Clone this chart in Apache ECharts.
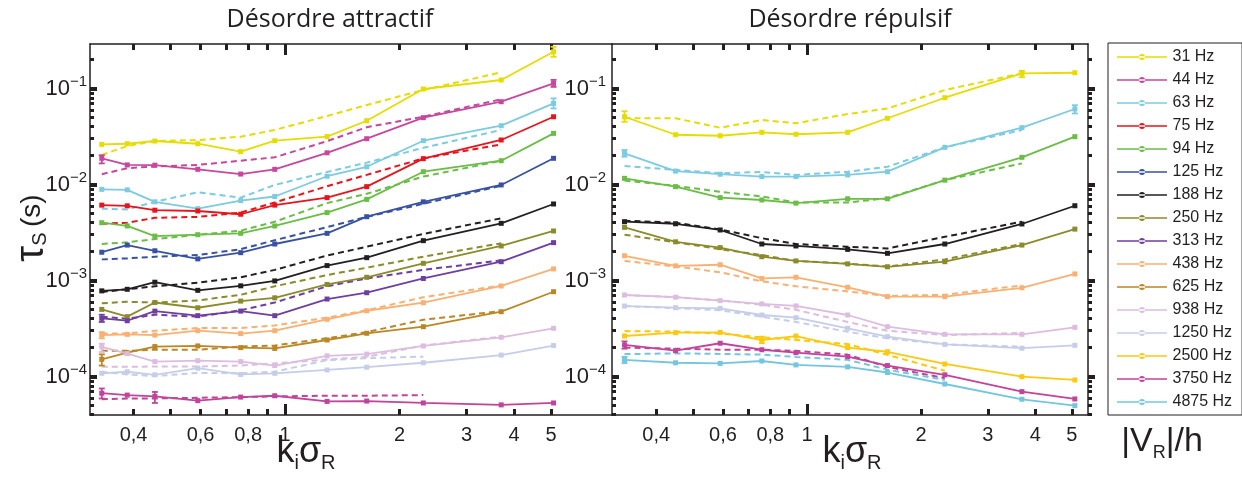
<!DOCTYPE html>
<html>
<head>
<meta charset="utf-8">
<script src="https://cdn.jsdelivr.net/npm/echarts@6/dist/echarts.min.js"></script>
<style>
  html, body { margin: 0; padding: 0; background: #fff; }
  #chart { width: 1242px; height: 479px; }
</style>
</head>
<body>
<div id="chart"></div>
<script>
// k_i * sigma_R positions of the measurements
var kAttr = [0.33, 0.385, 0.455, 0.59, 0.765, 0.94, 1.29, 1.64, 2.31, 3.7, 5.08];
var kRep = [0.33, 0.45, 0.59, 0.76, 0.935, 1.28, 1.63, 2.31, 3.69, 5.09];

var freqs = ['31 Hz', '44 Hz', '63 Hz', '75 Hz', '94 Hz', '125 Hz', '188 Hz', '250 Hz',
  '313 Hz', '438 Hz', '625 Hz', '938 Hz', '1250 Hz', '2500 Hz', '3750 Hz', '4875 Hz'];
var colors = ['#e6dc00', '#c7479d', '#7ccbe0', '#e8141b', '#6abd45', '#3851a3', '#231f20', '#8b8b2c',
  '#6e3fa0', '#f9b072', '#bb8725', '#dcbde0', '#c5cdea', '#fcc90f', '#c2439a', '#74c6e0'];

var xTicks = [0.4, 0.5, 0.6, 0.7, 0.8, 0.9, 2, 3, 4, 5];
var xMajor = [1];
var xLabels = [0.4, 0.6, 0.8, 1, 2, 3, 4, 5];
var yLabels = [1e-4, 1e-3, 1e-2, 1e-1];

// désordre attractif : mesures (trait plein) et théorie (tirets)
var attr31 = [0.0262, 0.0266, 0.0284, 0.0266, 0.0220, 0.0286, 0.0316, 0.0462, 0.0989, 0.1227, 0.2415];
var attr31Th = [0.0203, 0.0252, 0.0284, 0.029, 0.0315, 0.037, 0.0517, 0.0673, 0.0965, 0.1475, null];
var attr44 = [0.01875, 0.0160, 0.0159, 0.0144, 0.01285, 0.0144, 0.0214, 0.030, 0.0497, 0.0729, 0.1133];
var attr44Th = [0.0128, 0.0148, 0.0154, 0.016, 0.0177, 0.0192, 0.0283, 0.0395, 0.0509, 0.0772, null];
var attr63 = [0.0089, 0.0088, 0.0066, 0.0056, 0.0068, 0.0075, 0.0122, 0.0153, 0.0286, 0.041, 0.0701];
var attr63Th = [0.0056, 0.0055, 0.0066, 0.0083, 0.0073, 0.0099, 0.0135, 0.0169, 0.0241, 0.037, null];
var attr75 = [0.0061, 0.0060, 0.0054, 0.0053, 0.0049, 0.0061, 0.0073, 0.0095, 0.0186, 0.0291, 0.0508];
var attr75Th = [0.0039, 0.0040, 0.0045, 0.0046, 0.0051, 0.0065, 0.0096, 0.0126, 0.0187, 0.0262, null];
var attr94 = [0.0040, 0.0037, 0.0029, 0.0030, 0.0031, 0.0037, 0.0051, 0.0070, 0.0136, 0.0177, 0.0341];
var attr94Th = [0.0024, 0.0025, 0.0027, 0.0030, 0.0033, 0.0041, 0.0064, 0.0080, 0.0121, 0.0177, null];
var attr125 = [0.00197, 0.00234, 0.00204, 0.00168, 0.00195, 0.0024, 0.0031, 0.00462, 0.0066, 0.0099, 0.01875];
var attr125Th = [0.00166, 0.0017, 0.00177, 0.00184, 0.00212, 0.00263, 0.0036, 0.0046, 0.0063, 0.0097, null];
var attr188 = [0.00078, 0.00081, 0.00096, 0.00079, 0.00088, 0.00099, 0.00143, 0.00173, 0.0026, 0.00394, 0.00627];
var attr188Th = [0.00076, 0.00081, 0.00087, 0.00095, 0.00108, 0.00129, 0.00182, 0.00225, 0.00305, 0.00445, null];
var attr250 = [0.00050, 0.00042, 0.00059, 0.00052, 0.00061, 0.00066, 0.00091, 0.00108, 0.00151, 0.00229, 0.00328];
var attr250Th = [0.00058, 0.0006, 0.00059, 0.00062, 0.00071, 0.00087, 0.00114, 0.00136, 0.00177, 0.00244, null];
var attr313 = [0.000404, 0.000381, 0.00048, 0.00043, 0.00048, 0.00043, 0.000641, 0.000746, 0.00105, 0.00157, 0.00248];
var attr313Th = [0.00042, 0.00040, 0.00044, 0.00042, 0.00049, 0.00059, 0.00087, 0.00105, 0.00129, 0.00162, null];
var attr438 = [0.00027, 0.000275, 0.00027, 0.0003, 0.00028, 0.0003, 0.000394, 0.000484, 0.000587, 0.000877, 0.00132];
var attr438Th = [0.00028, 0.00028, 0.0003, 0.00032, 0.00032, 0.00034, 0.00041, 0.00049, 0.00067, 0.00089, null];
var attr625 = [0.000151, 0.000177, 0.000205, 0.000208, 0.0002, 0.000196, 0.00024, 0.000282, 0.00033, 0.000473, 0.000764];
var attr625Th = [0.000185, 0.000185, 0.00019, 0.00019, 0.000205, 0.00021, 0.00025, 0.00029, 0.00039, 0.00048, null];
var attr938 = [0.000204, 0.000173, 0.000143, 0.000146, 0.000143, 0.00013, 0.000164, 0.000171, 0.000208, 0.000256, 0.000318];
var attr938Th = [0.000126, 0.000126, 0.000127, 0.000127, 0.00013, 0.000137, 0.00015, 0.00016, 0.00021, 0.00026, null];
var attr1250 = [0.000108, 0.000112, 0.000104, 0.000122, 0.000105, 0.000108, 0.000117, 0.000125, 0.000139, 0.000167, 0.00021];
var attr1250Th = [0.000112, 0.000105, 0.000101, 0.000109, 0.000108, 0.000112, 0.000148, 0.000155, 0.000161, null, null];
var attr3750 = [6.7e-5, 6.4e-5, 6.2e-5, 5.6e-5, 6.1e-5, 6.3e-5, 5.5e-5, 5.55e-5, 5.3e-5, 5.06e-5, 5.3e-5];
var attr3750Th = [5.8e-5, 5.9e-5, 5.9e-5, 6.0e-5, 6.1e-5, 6.2e-5, 6.3e-5, 6.3e-5, 6.4e-5, null, null];

// désordre répulsif
var rep31 = [0.0508, 0.033, 0.0322, 0.035, 0.0334, 0.035, 0.049, 0.0802, 0.144, 0.146];
var rep31Th = [0.049, 0.049, 0.039, 0.047, 0.0434, 0.0542, 0.062, 0.0965, 0.144, null];
var rep63 = [0.0211, 0.0138, 0.0128, 0.0121, 0.0121, 0.0126, 0.0136, 0.0244, 0.0391, 0.0612];
var rep63Th = [0.0156, 0.0142, 0.0131, 0.0135, 0.0126, 0.0136, 0.0153, 0.0244, 0.037, null];
var rep94 = [0.0116, 0.0095, 0.0073, 0.0069, 0.0064, 0.0071, 0.0071, 0.0111, 0.0192, 0.0315];
var rep94Th = [0.011, 0.0097, 0.0084, 0.0075, 0.0065, 0.0065, 0.0072, 0.0111, 0.0166, null];
var rep188 = [0.0041, 0.0039, 0.00336, 0.0024, 0.00229, 0.00211, 0.00192, 0.0024, 0.00388, 0.00601];
var rep188Th = [0.0042, 0.0040, 0.0034, 0.00276, 0.0024, 0.00225, 0.00216, 0.00285, 0.0041, null];
var rep250 = [0.00358, 0.00253, 0.0022, 0.00177, 0.0016, 0.00149, 0.00139, 0.00157, 0.00234, 0.00343];
var rep250Th = [0.0030, 0.0025, 0.00212, 0.00184, 0.0016, 0.0015, 0.0014, 0.00166, 0.0024, null];
var rep438 = [0.00181, 0.00142, 0.00146, 0.00105, 0.00108, 0.00085, 0.00068, 0.00068, 0.00084, 0.00117];
var rep438Th = [0.0016, 0.0014, 0.00122, 0.00098, 0.00087, 0.00077, 0.00069, 0.00071, 0.00089, null];
var rep938 = [0.000706, 0.00067, 0.000617, 0.00057, 0.000543, 0.000437, 0.00033, 0.000275, 0.000275, 0.000325];
var rep938Th = [0.000706, 0.00067, 0.00062, 0.00056, 0.000495, 0.00037, 0.0003, 0.00027, 0.000285, null];
var rep1250 = [0.000542, 0.000521, 0.000513, 0.000437, 0.00041, 0.000318, 0.00026, 0.000216, 0.000197, 0.000211];
var rep1250Th = [0.000542, 0.000515, 0.00049, 0.00042, 0.00037, 0.000292, 0.00025, 0.000216, 0.000205, null];
var rep2500 = [0.000264, 0.000286, 0.000288, 0.00024, 0.000264, 0.0002, 0.000181, 0.000135, 0.0000995, 0.000092];
var rep2500Th = [0.000297, 0.000294, 0.00028, 0.000256, 0.00024, 0.000218, 0.000168, 0.000115, null, null];
var rep3750 = [0.000213, 0.000186, 0.000222, 0.00019, 0.000177, 0.000161, 0.00013, 0.000104, 0.0000695, 0.0000583];
var rep3750Th = [0.0002, 0.000195, 0.00019, 0.00019, 0.000185, 0.000169, 0.000126, 0.000096, null, null];
var rep4875 = [0.000149, 0.000139, 0.000137, 0.000145, 0.000132, 0.000126, 0.00011, 0.0000835, 0.0000579, 0.0000497];
var rep4875Th = [0.000171, 0.000174, 0.000172, 0.000169, 0.00016, 0.000149, 0.000118, 0.000092, null, null];

// barres d'erreur visibles : [fréquence, k, bas, haut]
var errAttr = [
  ['31 Hz', 5.08, 0.214, 0.272], ['44 Hz', 0.33, 0.0166, 0.0202], ['44 Hz', 5.08, 0.104, 0.123],
  ['63 Hz', 5.08, 0.062, 0.079], ['313 Hz', 0.33, 0.00037, 0.00044], ['438 Hz', 0.33, 0.00025, 0.00029],
  ['625 Hz', 0.33, 0.00013, 0.00017], ['938 Hz', 0.33, 0.00018, 0.00022],
  ['3750 Hz', 0.33, 5.9e-5, 7.5e-5], ['3750 Hz', 0.455, 5.3e-5, 6.9e-5]
];
var errRep = [
  ['31 Hz', 0.33, 0.045, 0.058], ['31 Hz', 3.69, 0.131, 0.153], ['63 Hz', 0.33, 0.0195, 0.0229],
  ['63 Hz', 5.09, 0.055, 0.067], ['3750 Hz', 0.33, 0.000195, 0.000232], ['4875 Hz', 0.33, 0.000138, 0.00016],
  ['2500 Hz', 0.76, 0.000222, 0.00026]
];

var attrList = [
  ['31 Hz', attr31, attr31Th], ['44 Hz', attr44, attr44Th], ['63 Hz', attr63, attr63Th],
  ['75 Hz', attr75, attr75Th], ['94 Hz', attr94, attr94Th], ['125 Hz', attr125, attr125Th],
  ['188 Hz', attr188, attr188Th], ['250 Hz', attr250, attr250Th], ['313 Hz', attr313, attr313Th],
  ['438 Hz', attr438, attr438Th], ['625 Hz', attr625, attr625Th], ['938 Hz', attr938, attr938Th],
  ['1250 Hz', attr1250, attr1250Th], ['3750 Hz', attr3750, attr3750Th]
];
var repList = [
  ['31 Hz', rep31, rep31Th], ['63 Hz', rep63, rep63Th], ['94 Hz', rep94, rep94Th],
  ['188 Hz', rep188, rep188Th], ['250 Hz', rep250, rep250Th], ['438 Hz', rep438, rep438Th],
  ['938 Hz', rep938, rep938Th], ['1250 Hz', rep1250, rep1250Th], ['2500 Hz', rep2500, rep2500Th],
  ['3750 Hz', rep3750, rep3750Th], ['4875 Hz', rep4875, rep4875Th]
];

var TXT = '#231f20';
var FONT = 'Liberation Sans';
var YMIN = 3.97e-5, YMAX = 0.291;
var XL = [0.3073, 7.235], XR = [0.3058, 5.513];

function pairs(k, v) {
  var out = [];
  for (var i = 0; i < k.length; i++) {
    if (v[i] != null) out.push([k[i], v[i]]);
  }
  return out;
}
function colorOf(name) { return colors[freqs.indexOf(name)]; }

var series = [];
function addPanel(list, errs, k, xi, yi) {
  list.forEach(function (s) {
    var c = colorOf(s[0]);
    series.push({
      type: 'line', name: s[0], xAxisIndex: xi, yAxisIndex: yi,
      data: pairs(k, s[2]), symbol: 'none', silent: true, z: 2,
      color: c, lineStyle: { color: c, width: 2, type: [6, 4] }
    });
  });
  list.forEach(function (s) {
    var c = colorOf(s[0]);
    series.push({
      type: 'line', name: s[0], xAxisIndex: xi, yAxisIndex: yi,
      data: pairs(k, s[1]), symbol: 'rect', symbolSize: 5, silent: true, z: 3,
      color: c, itemStyle: { color: c }, lineStyle: { color: c, width: 1.8 }
    });
  });
  series.push({
    type: 'custom', xAxisIndex: xi, yAxisIndex: yi, silent: true, z: 4,
    data: errs.map(function (e) { return [e[1], e[2], e[3], freqs.indexOf(e[0])]; }),
    renderItem: function (params, api) {
      var lo = api.coord([api.value(0), api.value(1)]);
      var hi = api.coord([api.value(0), api.value(2)]);
      var st = { stroke: colors[api.value(3)], lineWidth: 1.8 };
      return {
        type: 'group', children: [
          { type: 'line', shape: { x1: lo[0], y1: lo[1], x2: hi[0], y2: hi[1] }, style: st },
          { type: 'line', shape: { x1: lo[0] - 3, y1: lo[1], x2: lo[0] + 3, y2: lo[1] }, style: st },
          { type: 'line', shape: { x1: hi[0] - 3, y1: hi[1], x2: hi[0] + 3, y2: hi[1] }, style: st }
        ]
      };
    }
  });
}
addPanel(attrList, errAttr, kAttr, 0, 0);
addPanel(repList, errRep, kRep, 2, 1);

var yMinor = [], yMajor = [];
for (var d = -5; d <= -1; d++) {
  for (var m = 1; m <= 9; m++) {
    var v = m * Math.pow(10, d);
    if (v > YMIN && v < YMAX) (m === 1 ? yMajor : yMinor).push(v);
  }
}
function lg(arr) { return arr.map(function (v) { return Math.log10(v); }); }

function xFmt(v) { return String(Math.round(v * 10) / 10).replace('.', ','); }
function yFmt(v) { return '{b|10}{s|\u2212' + (-Math.round(Math.log10(v))) + '}'; }
var yRich = {
  b: { fontSize: 22, fontFamily: FONT, color: TXT },
  s: { fontSize: 15, fontFamily: FONT, color: TXT, padding: [0, 0, 14, 0] }
};

// data axes (log scale, labels + frame)
function xAxis(grid, ext, pos) {
  return {
    type: 'log', gridIndex: grid, position: pos, min: ext[0], max: ext[1],
    axisLine: { show: true, onZero: false, lineStyle: { color: TXT, width: 1.5 } },
    axisTick: { show: false },
    axisLabel: {
      show: pos === 'bottom', customValues: xLabels, formatter: xFmt, margin: 10,
      fontSize: 20, fontFamily: FONT, color: TXT
    },
    splitLine: { show: false }, minorTick: { show: false }
  };
}
function yAxis(grid, pos, labels, margin) {
  return {
    type: 'log', gridIndex: grid, position: pos, min: YMIN, max: YMAX,
    axisLine: { show: true, onZero: false, lineStyle: { color: TXT, width: 1.5 } },
    axisTick: { show: false },
    axisLabel: { show: labels, customValues: yLabels, formatter: yFmt, rich: yRich, margin: margin },
    splitLine: { show: false }, minorTick: { show: false }
  };
}
// tick-only axes on overlay grids, placed at log10 of the tick values
function tickAxis(grid, pos, ext, vals, len, width, inside) {
  return {
    type: 'value', gridIndex: grid, position: pos, min: Math.log10(ext[0]), max: Math.log10(ext[1]),
    axisLine: { show: false, onZero: false }, axisLabel: { show: false }, splitLine: { show: false },
    axisTick: { show: true, inside: inside, length: len, customValues: lg(vals), lineStyle: { color: TXT, width: width } }
  };
}

var gL = { left: 90, top: 44, width: 522, height: 371, outerBoundsMode: 'none' };
var gR = { left: 612, top: 44, width: 476, height: 371, outerBoundsMode: 'none' };

var chart = echarts.init(document.getElementById('chart'), null, { renderer: 'canvas' });
chart.setOption({
  animation: false,
  backgroundColor: '#fff',
  grid: [gL, gR, gL, gR, gL, gR],
  xAxis: [
    xAxis(0, XL, 'bottom'), xAxis(0, XL, 'top'),
    xAxis(1, XR, 'bottom'), xAxis(1, XR, 'top'),
    tickAxis(2, 'bottom', XL, xTicks, 6, 3, true), tickAxis(2, 'top', XL, xTicks, 6, 3, true),
    tickAxis(3, 'bottom', XR, xTicks, 6, 3, true), tickAxis(3, 'top', XR, xTicks, 6, 3, true),
    tickAxis(4, 'bottom', XL, xMajor, 11, 3, true), tickAxis(4, 'top', XL, xMajor, 11, 3, true),
    tickAxis(5, 'bottom', XR, xMajor, 11, 3, true), tickAxis(5, 'top', XR, xMajor, 11, 3, true)
  ],
  yAxis: [
    yAxis(0, 'left', true, 3),
    yAxis(1, 'left', true, 6),
    yAxis(1, 'right', false, 6),
    tickAxis(2, 'left', [YMIN, YMAX], yMinor, 4, 3, true),
    tickAxis(3, 'left', [YMIN, YMAX], yMinor, 4, 3, true),
    tickAxis(3, 'right', [YMIN, YMAX], yMinor, 4, 3, false),
    tickAxis(4, 'left', [YMIN, YMAX], yMajor, 7, 4, true),
    tickAxis(5, 'left', [YMIN, YMAX], yMajor, 7, 4, true),
    tickAxis(5, 'right', [YMIN, YMAX], yMajor, 7, 4, false)
  ],
  legend: {
    orient: 'vertical', left: 1108, top: 43, selectedMode: false,
    data: freqs.map(function (f) {
      return { name: f, icon: 'path://M0,2.2H50V3.8H0Z M22,3a3,3 0 1,0 6,0a3,3 0 1,0 -6,0Z' };
    }),
    itemWidth: 51, itemHeight: 6, itemGap: 7,
    padding: [6, 10, 5, 9],
    borderColor: TXT, borderWidth: 1,
    textStyle: { fontSize: 16, fontFamily: FONT, color: TXT }
  },
  graphic: [
    { type: 'text', x: 330, y: 20, style: { text: 'Désordre attractif', font: '25px "Open Sans"', fill: TXT, align: 'center', verticalAlign: 'middle' } },
    { type: 'text', x: 850, y: 20, style: { text: 'Désordre répulsif', font: '25px "Open Sans"', fill: TXT, align: 'center', verticalAlign: 'middle' } },
    {
      type: 'text', x: 306, y: 452, style: {
        text: '{a|k}{b|i}{a|\u03c3}{b|R}', align: 'center', verticalAlign: 'middle',
        rich: { a: { fontSize: 36, fontFamily: FONT, fill: TXT }, b: { fontSize: 20, fontFamily: FONT, fill: TXT, padding: [22, 0, 0, 0] } }
      }
    },
    {
      type: 'text', x: 852, y: 452, style: {
        text: '{a|k}{b|i}{a|\u03c3}{b|R}', align: 'center', verticalAlign: 'middle',
        rich: { a: { fontSize: 36, fontFamily: FONT, fill: TXT }, b: { fontSize: 20, fontFamily: FONT, fill: TXT, padding: [22, 0, 0, 0] } }
      }
    },
    {
      type: 'text', x: 32, y: 228, rotation: Math.PI / 2, style: {
        text: '{t|\u03c4}{s|S}{g| }{p|(s)}', align: 'center', verticalAlign: 'middle',
        rich: {
          t: { fontSize: 40, fontFamily: FONT, fill: TXT },
          s: { fontSize: 20, fontFamily: FONT, fill: TXT, padding: [16, 0, 0, 0] },
          g: { fontSize: 20, fontFamily: FONT, fill: TXT },
          p: { fontSize: 28, fontFamily: FONT, fill: TXT }
        }
      }
    },
    {
      type: 'text', x: 1162, y: 442, style: {
        text: '{a||V}{b|R}{a||/h}', align: 'center', verticalAlign: 'middle',
        rich: { a: { fontSize: 34, fontFamily: FONT, fill: TXT }, b: { fontSize: 18, fontFamily: FONT, fill: TXT, padding: [22, 0, 0, 0] } }
      }
    }
  ],
  series: series
});
</script>
</body>
</html>
